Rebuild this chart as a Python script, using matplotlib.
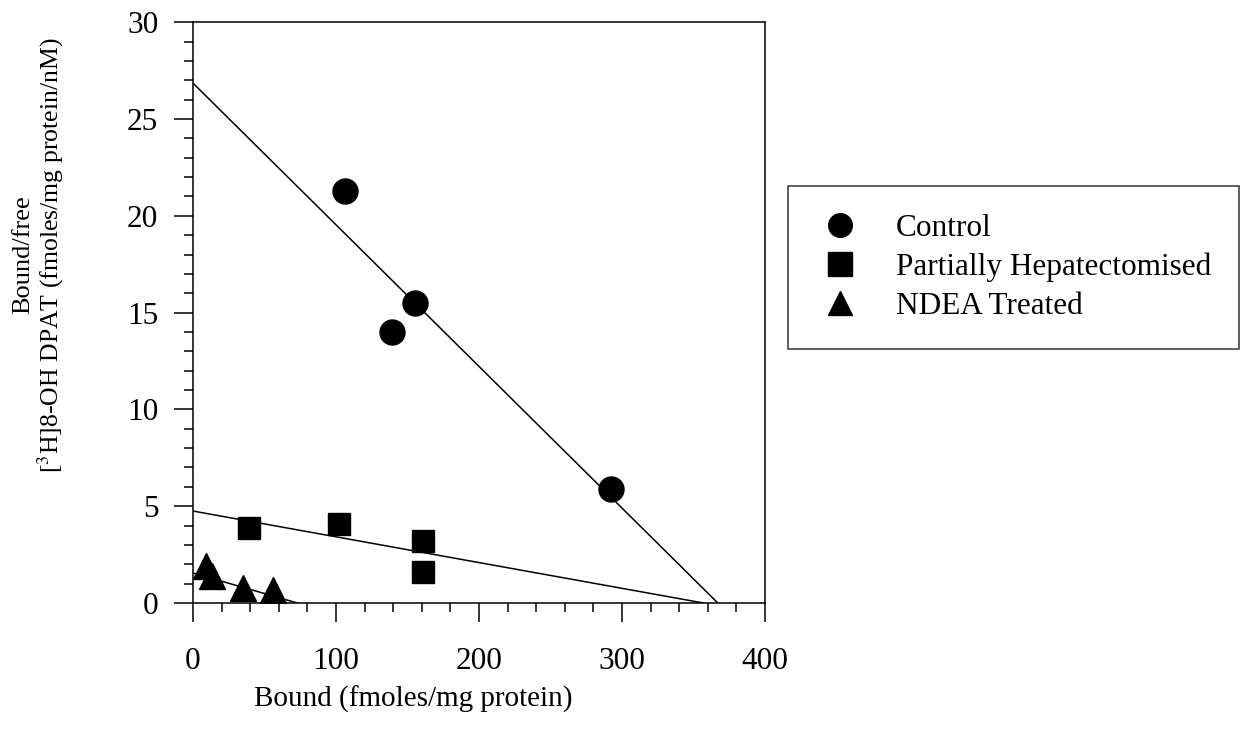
import matplotlib
matplotlib.use("Agg")
import matplotlib.pyplot as plt
from matplotlib.ticker import MultipleLocator

plt.rcParams['font.family'] = ['Liberation Serif', 'DejaVu Serif']
plt.rcParams['mathtext.fontset'] = 'stix'

# Scatchard data: bound (fmoles/mg protein) vs bound/free
control_x = [106, 139, 155, 292]
control_y = [21.3, 14.0, 15.5, 5.9]

ph_x = [39, 102, 161, 161]
ph_y = [3.9, 4.1, 3.2, 1.6]

ndea_x = [9, 13, 35, 56]
ndea_y = [1.9, 1.4, 0.8, 0.65]

# Fitted lines: (y-intercept, x-intercept)
control_fit = (26.85, 367)
ph_fit = (4.75, 357)
ndea_fit = (1.55, 73)

fig = plt.figure(figsize=(12.47, 7.39), dpi=100)
ax = fig.add_axes([0.1548, 0.184, 0.4587, 0.786])

for (b0, xint) in (control_fit, ph_fit, ndea_fit):
    ax.plot([0, xint], [b0, 0], color='black', lw=1.1, zorder=2)

ax.plot(control_x, control_y, 'o', color='black', ms=18, ls='none', label='Control', zorder=3)
ax.plot(ph_x, ph_y, 's', color='black', ms=15.5, ls='none', label='Partially Hepatectomised', zorder=3)
ax.plot(ndea_x, ndea_y, '^', color='black', ms=19, ls='none', label='NDEA Treated', zorder=3)

ax.set_xlim(0, 400)
ax.set_ylim(0, 30)
ax.xaxis.set_major_locator(MultipleLocator(100))
ax.xaxis.set_minor_locator(MultipleLocator(20))
ax.yaxis.set_major_locator(MultipleLocator(5))
ax.yaxis.set_minor_locator(MultipleLocator(1))
ax.tick_params(which='major', direction='out', length=14, width=1.1, labelsize=22.5)
ax.tick_params(which='minor', direction='out', length=6.5, width=1.1)
ax.tick_params(axis='x', which='major', pad=18)
ax.tick_params(axis='y', which='major', pad=11)
for s in ax.spines.values():
    s.set_linewidth(1.1)

fig.text(0.331, 0.054, 'Bound (fmoles/mg protein)', ha='center', va='center', fontsize=21)
fig.text(0.019, 0.655, 'Bound/free', ha='center', va='center', rotation=90, fontsize=19)
fig.text(0.041, 0.655, r'[$^{3}$H]8-OH DPAT (fmoles/mg protein/nM)', ha='center', va='center',
         rotation=90, fontsize=18.5)

leg = fig.legend(loc='upper left', bbox_to_anchor=(0.632, 0.748), fontsize=22.5, frameon=True,
                 fancybox=False, edgecolor='black', borderpad=0.9, handletextpad=1.05,
                 labelspacing=0.3, handlelength=1.5, borderaxespad=0)
leg.get_frame().set_linewidth(1.1)
for h in leg.legend_handles:
    h.set_markersize(17)

fig.savefig('out.png', dpi=100)
